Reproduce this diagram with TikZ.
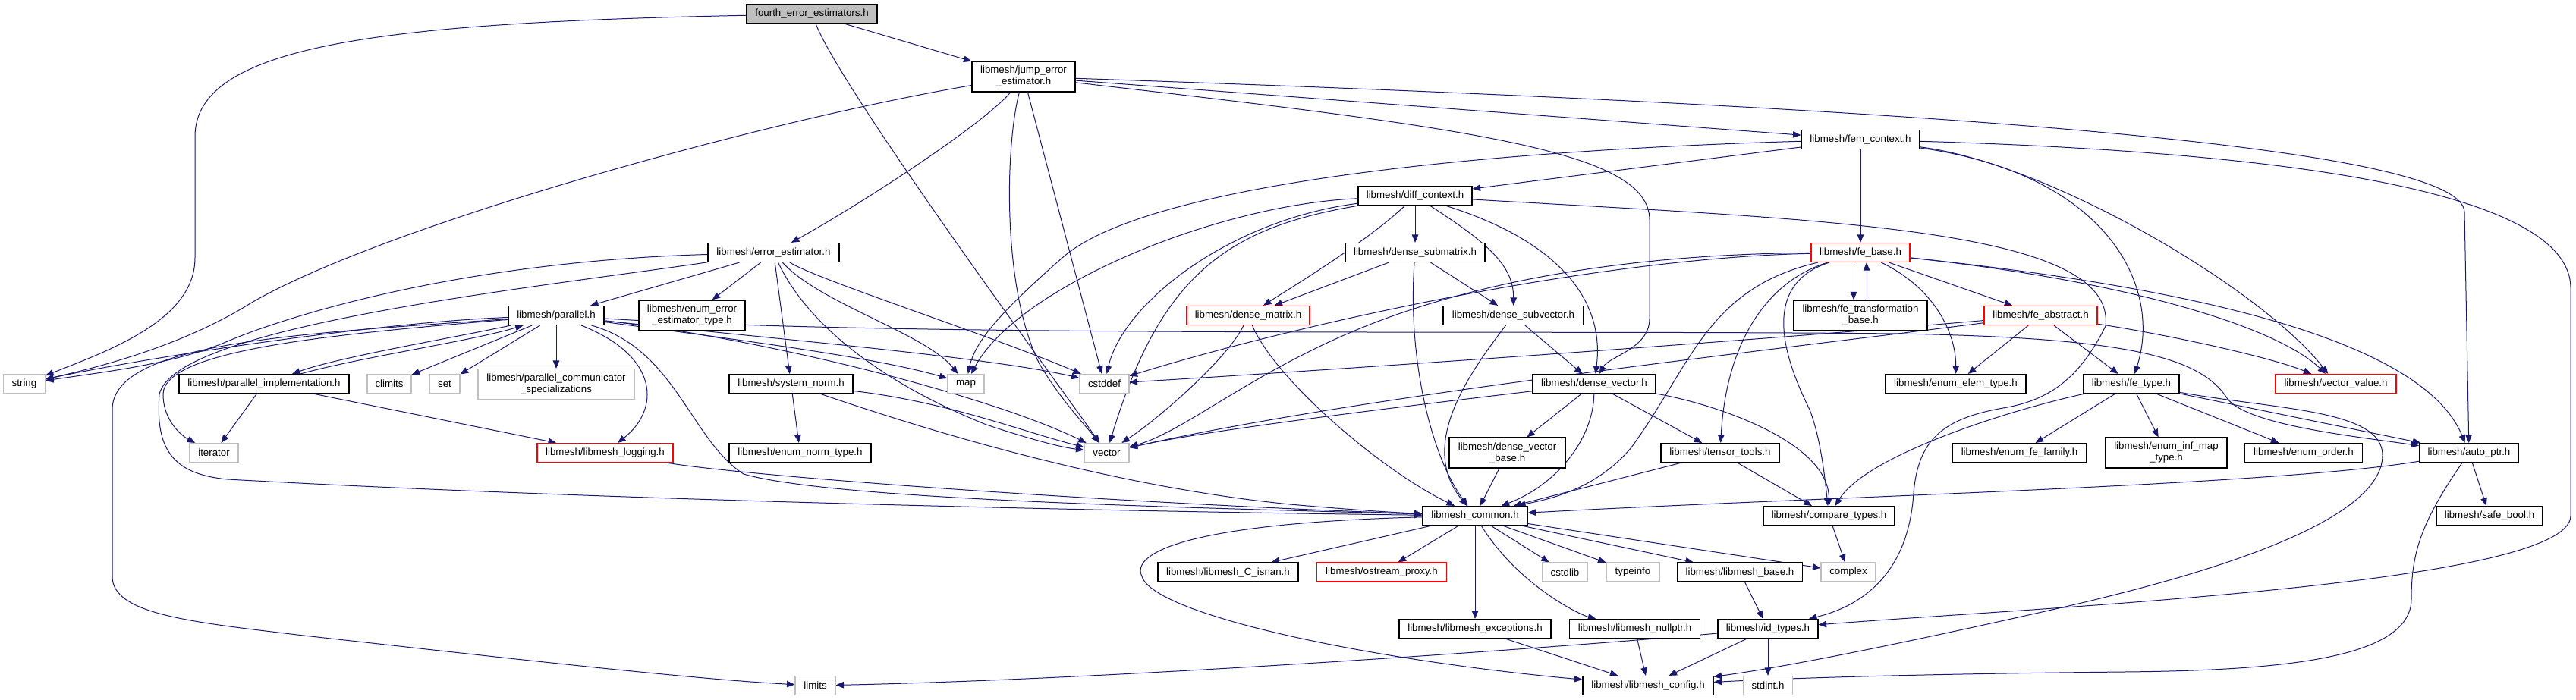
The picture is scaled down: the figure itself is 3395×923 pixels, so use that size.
\documentclass[tikz,border=0pt]{standalone}
\usepackage{fontspec}
\setmainfont{Liberation Sans}
\usetikzlibrary{arrows.meta,backgrounds}
\definecolor{edgec}{RGB}{25,25,112}
\definecolor{grayb}{RGB}{191,191,191}
\definecolor{redb}{RGB}{255,0,0}
\newcommand\nodefont{\fontsize{13.3pt}{15pt}\selectfont}
\begin{document}
\begin{tikzpicture}[x=1pt,y=-1pt,
  box/.style={draw=black, line width=1.1pt, fill=white, rectangle, inner sep=0pt, align=center, font=\nodefont, minimum height=25pt},
  two/.style={minimum height=40pt},
  gbox/.style={box, draw=grayb},
  rbox/.style={box, draw=redb},
  e/.style={draw=edgec, line width=1.0pt, -{Triangle[length=10.5pt,width=8.5pt]}}]
\useasboundingbox (0,0) rectangle (3395,923);

\node[box, fill=grayb, minimum width=172pt] (root) at (1070,18.5) {fourth\_error\_estimators.h};
\node[box, two, minimum width=136pt] (jump) at (1349,101) {libmesh/jump\_error\\\_estimator.h};
\node[box, minimum width=156pt] (fem) at (2452,184) {libmesh/fem\_context.h};
\node[box, minimum width=150pt] (diff) at (1865,258.5) {libmesh/diff\_context.h};
\node[box, minimum width=173pt] (errest) at (1019.5,333) {libmesh/error\_estimator.h};
\node[box, minimum width=184pt] (dsubmat) at (1865,333) {libmesh/dense\_submatrix.h};
\node[rbox, minimum width=130pt] (febase) at (2452,333) {libmesh/fe\_base.h};
\node[box, minimum width=126pt] (par) at (733,416) {libmesh/parallel.h};
\node[box, two, minimum width=140pt] (enumerr) at (912,416) {libmesh/enum\_error\\\_estimator\_type.h};
\node[rbox, minimum width=162pt] (dmat) at (1645,416) {libmesh/dense\_matrix.h};
\node[box, minimum width=185pt] (dsubvec) at (1994.5,416) {libmesh/dense\_subvector.h};
\node[box, two, minimum width=176pt] (fetrans) at (2452,416) {libmesh/fe\_transformation\\\_base.h};
\node[rbox, minimum width=149pt] (feabs) at (2689.5,416) {libmesh/fe\_abstract.h};
\node[gbox, minimum width=55pt] (str) at (32,506) {string};
\node[box, minimum width=224pt] (parimpl) at (348,506) {libmesh/parallel\_implementation.h};
\node[gbox, minimum width=58pt] (climits) at (513,506) {climits};
\node[gbox, minimum width=40pt] (set) at (586,506) {set};
\node[gbox, two, minimum width=206pt] (comm) at (733,506.5) {libmesh/parallel\_communicator\\\_specializations};
\node[gbox, minimum width=48pt] (map) at (1273,506) {map};
\node[gbox, minimum width=65pt] (cstddef) at (1455.5,506) {cstddef};
\node[box, minimum width=163pt] (sysnorm) at (1042.5,506) {libmesh/system\_norm.h};
\node[box, minimum width=162pt] (dvec) at (2101,506) {libmesh/dense\_vector.h};
\node[box, minimum width=185pt] (enumelem) at (2577.5,506) {libmesh/enum\_elem\_type.h};
\node[box, minimum width=126pt] (fetype) at (2809,506) {libmesh/fe\_type.h};
\node[rbox, minimum width=159pt] (vecval) at (3078.5,506) {libmesh/vector\_value.h};
\node[gbox, minimum width=64pt] (iter) at (282,597) {iterator};
\node[rbox, minimum width=179pt] (logging) at (797.5,597) {libmesh/libmesh\_logging.h};
\node[box, minimum width=187pt] (enumnorm) at (1054.5,597) {libmesh/enum\_norm\_type.h};
\node[gbox, minimum width=59pt] (vec) at (1458.5,597) {vector};
\node[box, two, minimum width=153pt] (dvecbase) at (1986.5,597) {libmesh/dense\_vector\\\_base.h};
\node[box, minimum width=156pt] (tensor) at (2267,597) {libmesh/tensor\_tools.h};
\node[box, minimum width=177pt] (enumfam) at (2661.5,597) {libmesh/enum\_fe\_family.h};
\node[box, two, minimum width=160pt] (infmap) at (2855,597) {libmesh/enum\_inf\_map\\\_type.h};
\node[box, minimum width=155pt] (enumorder) at (3036,597) {libmesh/enum\_order.h};
\node[box, minimum width=131pt] (autoptr) at (3254,597) {libmesh/auto\_ptr.h};
\node[box, minimum width=138pt] (common) at (1944,680) {libmesh\_common.h};
\node[box, minimum width=173pt] (cmp) at (2410.5,680) {libmesh/compare\_types.h};
\node[box, minimum width=140pt] (safebool) at (3281,680) {libmesh/safe\_bool.h};
\node[box, minimum width=185pt] (isnan) at (1618.5,754.5) {libmesh/libmesh\_C\_isnan.h};
\node[rbox, minimum width=171pt] (ostream) at (1821,754.5) {libmesh/ostream\_proxy.h};
\node[gbox, minimum width=60pt] (cstdlib) at (2062.5,754.5) {cstdlib};
\node[gbox, minimum width=70pt] (typeinfo) at (2152,754.5) {typeinfo};
\node[box, minimum width=165pt] (lmbase) at (2293,754.5) {libmesh/libmesh\_base.h};
\node[gbox, minimum width=72pt] (complex) at (2436,754.5) {complex};
\node[box, minimum width=200pt] (except) at (1944,829) {libmesh/libmesh\_exceptions.h};
\node[box, minimum width=172pt] (nullptr) at (2154.5,829) {libmesh/libmesh\_nullptr.h};
\node[box, minimum width=132pt] (idtypes) at (2330,829) {libmesh/id\_types.h};
\node[box, minimum width=172pt] (config) at (2172,904) {libmesh/libmesh\_config.h};
\node[gbox, minimum width=53pt] (limits) at (1074.5,904) {limits};
\node[gbox, minimum width=65pt] (stdint) at (2330,904) {stdint.h};

\begin{scope}[on background layer]
% root
\draw[e] (root) -- (jump);
\draw[e] (root) .. controls (1110,120) and (1390,500) .. (vec);
\draw[e] (root) .. controls (500,30) and (257,60) .. (257,180) -- (257,340) .. controls (257,420) and (150,460) .. (str);
% jump
\draw[e] (jump) .. controls (1000,160) and (500,300) .. (330,400) .. controls (250,450) and (150,480) .. (str);
\draw[e] (jump) .. controls (1300,160) and (1150,260) .. (errest);
\draw[e] (jump) .. controls (1325,190) and (1320,380) .. (1370,480) .. controls (1400,530) and (1430,560) .. (vec);
\draw[e] (jump) -- (cstddef);
\draw[e] (jump) -- (fem);
\draw[e] (jump) .. controls (1950,170) and (2174,200) .. (2174,290) -- (2174,420) .. controls (2174,460) and (2120,470) .. (dvec);
\draw[e] (jump) .. controls (2500,140) and (3248,190) .. (3248,280) -- (autoptr);
% fem
\draw[e] (fem) -- (diff);
\draw[e] (fem) .. controls (1900,200) and (1500,250) .. (1400,340) .. controls (1320,410) and (1285,450) .. (map);
\draw[e] (fem) -- (febase);
\draw[e] (fem) .. controls (3000,200) and (3388,250) .. (3388,380) -- (3388,680) .. controls (3388,770) and (2700,800) .. (idtypes);
\draw[e] (fem) .. controls (2700,215) and (2980,380) .. (vecval);
\draw[e] (fem) .. controls (2780,230) and (2850,380) .. (fetype);
% diff
\draw[e] (diff) -- (dsubmat);
\draw[e] (diff) .. controls (1800,320) and (1700,380) .. (dmat);
\draw[e] (diff) .. controls (1960,320) and (1995,350) .. (dsubvec);
\draw[e] (diff) .. controls (2060,320) and (2115,400) .. (dvec);
\draw[e] (diff) .. controls (2400,290) and (2790,300) .. (2775,430) .. controls (2740,500) and (2700,528) .. (2640,538) .. controls (2560,552) and (2528,580) .. (2522,650) .. controls (2515,760) and (2450,800) .. (idtypes);
\draw[e] (diff) .. controls (1600,270) and (1340,380) .. (map);
\draw[e] (diff) .. controls (1620,290) and (1480,400) .. (cstddef);
\draw[e] (diff) .. controls (1620,300) and (1530,360) .. (vec);
% error estimator
\draw[e] (errest) .. controls (600,345) and (370,420) .. (300,450) .. controls (230,480) and (140,490) .. (str);
\draw[e] (errest) .. controls (700,380) and (230,430) .. (210,520) .. controls (205,590) and (225,625) .. (300,632) .. controls (800,660) and (1500,675) .. (common);
\draw[e] (errest) -- (par);
\draw[e] (errest) -- (enumerr);
\draw[e] (errest) -- (sysnorm);
\draw[e] (errest) .. controls (1080,400) and (1220,440) .. (map);
\draw[e] (errest) .. controls (1080,370) and (1300,440) .. (cstddef);
\draw[e] (errest) .. controls (1060,420) and (1150,500) .. (1300,560) .. controls (1360,580) and (1400,590) .. (vec);
% parallel
\draw[e] (par) .. controls (500,425) and (200,470) .. (str);
\draw[e] (par) .. controls (600,445) and (450,470) .. (parimpl);
\draw[e] (parimpl) .. controls (480,470) and (620,450) .. (par);
\draw[e] (par) .. controls (450,440) and (215,460) .. (215,520) .. controls (215,555) and (240,575) .. (iter);
\draw[e] (par) .. controls (400,440) and (148,450) .. (148,540) -- (148,760) .. controls (148,810) and (250,820) .. (400,838) .. controls (600,860) and (900,895) .. (limits);
\draw[e] (par) -- (climits);
\draw[e] (par) -- (set);
\draw[e] (par) -- (comm);
\draw[e] (par) .. controls (870,470) and (870,540) .. (logging);
\draw[e] (par) .. controls (890,460) and (910,580) .. (980,625) .. controls (1100,660) and (1600,670) .. (common);
\draw[e] (par) .. controls (950,445) and (1150,470) .. (map);
\draw[e] (par) .. controls (1000,445) and (1300,470) .. (cstddef);
\draw[e] (par) .. controls (1000,445) and (1300,520) .. (vec);
\draw[e] (par) .. controls (1200,445) and (2000,435) .. (2500,440) .. controls (2800,445) and (2900,470) .. (2935,525) .. controls (2960,560) and (3100,575) .. (autoptr);
% parallel implementation
\draw[e] (parimpl) -- (iter);
\draw[e] (parimpl) -- (logging);
% logging, system norm
\draw[e] (logging) .. controls (1000,630) and (1500,665) .. (common);
\draw[e] (sysnorm) -- (enumnorm);
\draw[e] (sysnorm) .. controls (1250,530) and (1350,570) .. (vec);
\draw[e] (sysnorm) .. controls (1200,560) and (1450,640) .. (1700,665) .. controls (1780,672) and (1840,676) .. (common);
% dense matrices / vectors
\draw[e] (dmat) .. controls (1620,470) and (1530,550) .. (vec);
\draw[e] (dmat) .. controls (1680,500) and (1820,620) .. (common);
\draw[e] (dsubmat) -- (dmat);
\draw[e] (dsubmat) -- (dsubvec);
\draw[e] (dsubmat) .. controls (1855,470) and (1885,600) .. (common);
\draw[e] (dsubvec) -- (dvec);
\draw[e] (dsubvec) .. controls (1930,500) and (1870,590) .. (common);
\draw[e] (dvec) -- (dvecbase);
\draw[e] (dvec) .. controls (2100,580) and (2050,640) .. (common);
\draw[e] (dvec) -- (tensor);
\draw[e] (dvec) .. controls (2250,530) and (2410,580) .. (cmp);
\draw[e] (dvec) .. controls (1900,530) and (1600,565) .. (vec);
\draw[e] (dvecbase) -- (common);
\draw[e] (tensor) -- (common);
\draw[e] (tensor) -- (cmp);
\draw[e] (cmp) -- (complex);
% fe base
\draw[e] (febase) -- (feabs);
\draw[e] ([xshift=-9pt]febase.south) -- ([xshift=-9pt]fetrans.north);
\draw[e] ([xshift=8pt]fetrans.north) -- ([xshift=8pt]febase.south);
\draw[e] (febase) .. controls (2550,380) and (2578,440) .. (enumelem);
\draw[e] (febase) .. controls (2320,375) and (2350,470) .. (2385,540) .. controls (2400,580) and (2405,630) .. (cmp);
\draw[e] (febase) .. controls (2330,370) and (2275,450) .. (tensor);
\draw[e] (febase) .. controls (2250,380) and (2230,480) .. (2150,590) .. controls (2100,650) and (2030,660) .. (common);
\draw[e] (febase) .. controls (2800,370) and (3000,430) .. (vecval);
\draw[e] (febase) .. controls (2850,375) and (3190,440) .. (autoptr);
\draw[e] (febase) .. controls (2100,340) and (1700,430) .. (cstddef);
\draw[e] (febase) .. controls (2150,335) and (1950,370) .. (1800,430) .. controls (1650,490) and (1560,570) .. (vec);
% fe abstract
\draw[e] (feabs) -- (enumelem);
\draw[e] (feabs) -- (fetype);
\draw[e] (feabs) .. controls (2850,440) and (2990,470) .. (vecval);
\draw[e] (feabs) .. controls (2300,450) and (1800,485) .. (cstddef);
\draw[e] (feabs) .. controls (2350,460) and (1800,520) .. (vec);
% fe type
\draw[e] (fetype) .. controls (2650,540) and (2460,600) .. (cmp);
\draw[e] (fetype) -- (enumfam);
\draw[e] (fetype) -- (infmap);
\draw[e] (fetype) -- (enumorder);
\draw[e] (fetype) -- (autoptr);
\draw[e] (fetype) .. controls (3000,540) and (3140,540) .. (3140,600) .. controls (3140,690) and (2900,760) .. (2700,805) .. controls (2500,850) and (2350,880) .. (config);
% auto_ptr
\draw[e] (autoptr) .. controls (3000,640) and (2400,655) .. (common);
\draw[e] (autoptr) -- (safebool);
\draw[e] (autoptr) .. controls (3190,690) and (3178,730) .. (3178,790) .. controls (3178,870) and (3000,884) .. (2800,886) .. controls (2600,888) and (2400,892) .. (config);
% libmesh_common
\draw[e] (common) -- (isnan);
\draw[e] (common) -- (ostream);
\draw[e] (common) -- (except);
\draw[e] (common) .. controls (2000,770) and (2080,810) .. (nullptr);
\draw[e] (common) -- (cstdlib);
\draw[e] (common) -- (typeinfo);
\draw[e] (common) -- (lmbase);
\draw[e] (common) -- (complex);
\draw[e] (common) .. controls (1560,690) and (1490,730) .. (1505,760) .. controls (1520,810) and (1800,870) .. (config);
% bottom
\draw[e] (lmbase) -- (idtypes);
\draw[e] (except) -- (config);
\draw[e] (nullptr) -- (config);
\draw[e] (idtypes) -- (config);
\draw[e] (idtypes) -- (stdint);
\draw[e] (idtypes) .. controls (2100,850) and (1500,895) .. (limits);
\end{scope}
\end{tikzpicture}
\end{document}
